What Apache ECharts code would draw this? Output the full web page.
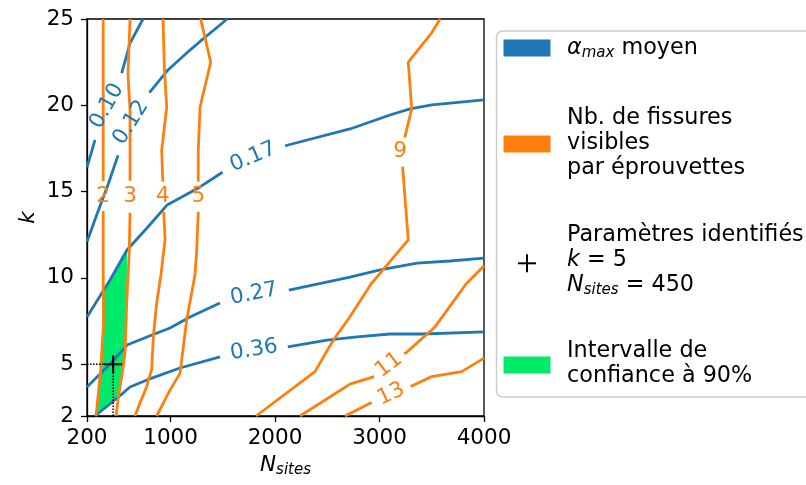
<!DOCTYPE html>
<html><head><meta charset="utf-8">
<script src="https://cdn.jsdelivr.net/npm/echarts@6/dist/echarts.min.js"></script>
<style>html,body{margin:0;padding:0;background:#fff}#c{width:806px;height:485px}</style>
</head><body><div id="c"></div>
<script>
// ---- axes ----
const xTicks = [200, 1000, 2000, 3000, 4000];
const yTicks = [2, 5, 10, 15, 20, 25];

// ---- alpha_max moyen contours [N_sites, k] ----
const alphaLevels = ['0.10', '0.12', '0.17', '0.27', '0.36'];
const alpha010 = [[200,16.4],[277,18.0],[401,20.0],[535,21.9],[612,23.6],[736,25]];
const alpha012 = [[200,12.1],[296,13.7],[401,15.4],[497,17.1],[650,18.9],[803,20.8],[975,22.05],[1186,23.2],[1282,23.7],[1473,24.65],[1540,25]];
const alpha017 = [[200,7.74],[420,9.88],[583,11.62],[774,12.89],[966,14.22],[1090,14.63],[1282,15.27],[1502,16.14],[1789,16.95],[2124,17.7],[2717,18.63],[3100,19.44],[3292,19.79],[3502,20.02],[4000,20.31]];
const alpha027 = [[200,3.68],[449,5.19],[583,6.11],[774,6.58],[994,7.1],[1186,7.74],[1473,8.55],[1808,9.01],[2143,9.3],[2459,9.71],[2717,10.05],[3005,10.46],[3359,10.86],[3675,10.98],[4000,11.15]];
const alpha036 = [[277,2],[545,3.33],[612,3.68],[774,4.09],[1090,4.78],[1473,5.42],[1808,5.82],[2124,6.0],[2497,6.4],[2784,6.58],[3100,6.75],[3416,6.75],[4000,6.87]];
const alphaLabelPos = [[391,19.96],[621,19.0],[1789,17.0],[1798,9.07],[1798,5.82]];
const alphaLabelAngle = [61, 58, 23, 11, 9];

// ---- visible cracks per specimen contours ----
const crackLevels = ['2', '3', '4', '5', '9', '11', '13'];
const crack2 = [[355,25],[355,17],[355,10.5],[357,7.2],[331,4.7],[299,2.75],[286,2]];
const crack3 = [[612,25],[592,21.8],[612,19.7],[612,13.9],[605,11.6],[580,8.55],[564,5.65],[532,4.26],[500,3.1],[478,2]];
const crack4 = [[928,25],[940,22.2],[963,19.9],[915,17.4],[925,15.7],[932,14.1],[947,12.2],[908,10.2],[867,8.55],[835,6.6],[819,4.7],[771,3.7],[707,2.75],[659,2]];
const crack5 = [[1288,25],[1384,22.5],[1282,19.9],[1265,17.4],[1265,13.8],[1250,11.6],[1234,10.2],[1154,7.56],[1122,6.0],[1090,4.47],[994,3.5],[867,2]];
const crack9 = [[3579,25],[3499,24.2],[3275,22.5],[3308,19.8],[3244,18.2],[3196,17.3],[3222,16.4],[3275,12.2],[3036,10.5],[2925,9.7],[2717,7.75],[2558,6.4],[2382,4.57],[1818,2]];
const crack11 = [[2239,2],[2717,3.85],[2973,4.33],[3090,4.95],[3260,5.7],[3531,7.16],[3828,9.65],[4000,10.7]];
const crack13 = [[2670,2],[2909,2.74],[3101,3.22],[3292,3.7],[3499,4.28],[3787,4.57],[4000,5.35]];
const crackLabelPos = [[355,14.75],[612,14.7],[925,14.7],[1265,14.7],[3196,17.3],[3090,4.95],[3110,3.27]];
const crackLabelAngle = [0, 0, 0, 0, 0, 37, 25];

// ---- identified parameters & 90% confidence region ----
const identN = 450;
const identK = 5;
const ciRegion = [[583,11.6],[580,8.55],[564,5.65],[532,4.26],[506,3.16],[290,2],[299,2.75],[331,4.7],[357,7.2],[353,9.23],[420,9.88]];

// ---- styles ----
const BLUE = '#1f77b4', ORANGE = '#ff7f0e', GREEN = '#00ea6a';
const FONT = 'DejaVu Sans';
const FS = 21.5;
const FSL = 22.3;
const FSUB = 15;
// half-length (px) of the inline gap left in each contour line around its label
const alphaGap = [36, 35, 34, 35, 34];
const crackGap = [15, 16, 15, 15, 15, 19, 21];

const alphaLines = [alpha010, alpha012, alpha017, alpha027, alpha036];
const crackLines = [crack2, crack3, crack4, crack5, crack9, crack11, crack13];

const chart = echarts.init(document.getElementById('c'), null, {renderer: 'canvas'});

const txt = (x, y, text) => ({
  type: 'text', x: x, y: y, z: 100,
  style: {text: text, fill: '#000', fontSize: FSL, fontFamily: FONT, lineHeight: 25,
          align: 'left', verticalAlign: 'middle',
          rich: {
            i: {fontStyle: 'italic', fontSize: FSL, fontFamily: FONT, lineHeight: 25, fill: '#000'},
            s: {fontStyle: 'italic', fontSize: FSUB, fontFamily: FONT, lineHeight: 13, verticalAlign: 'bottom', fill: '#000'}
          }}
});

chart.setOption({
  animation: false,
  backgroundColor: '#fff',
  grid: {left: 87, top: 19, width: 397, height: 397, show: true, borderColor: '#000', borderWidth: 1.3, backgroundColor: 'transparent'},
  xAxis: {
    type: 'value', min: 200, max: 4000,
    name: '{n|N}{s|sites}', nameLocation: 'middle', nameGap: 37,
    nameTextStyle: {color: '#000', fontFamily: FONT, fontSize: FS,
      rich: {n: {fontStyle: 'italic', fontSize: FS, fontFamily: FONT, color: '#000', lineHeight: 25},
             s: {fontStyle: 'italic', fontSize: FSUB, fontFamily: FONT, color: '#000', lineHeight: 13, verticalAlign: 'bottom'}}},
    axisLine: {lineStyle: {color: '#000', width: 1.3}},
    axisTick: {show: true, length: 6, customValues: xTicks, lineStyle: {color: '#000', width: 1.3}},
    axisLabel: {customValues: xTicks, formatter: v => String(v), color: '#000', fontSize: FS, fontFamily: FONT, margin: 11},
    splitLine: {show: false}
  },
  yAxis: {
    type: 'value', min: 2, max: 25,
    name: 'k', nameLocation: 'middle', nameGap: 48,
    nameTextStyle: {color: '#000', fontFamily: FONT, fontSize: FS, fontStyle: 'italic'},
    axisLine: {lineStyle: {color: '#000', width: 1.3}},
    axisTick: {show: true, length: 6, customValues: yTicks, lineStyle: {color: '#000', width: 1.3}},
    axisLabel: {customValues: yTicks, color: '#000', fontSize: FS, fontFamily: FONT, margin: 13},
    splitLine: {show: false}
  },
  series: [],
  graphic: {elements: [
    {type: 'rect', z: 90, shape: {x: 496.5, y: 31, width: 400, height: 366, r: 6},
     style: {fill: '#fff', stroke: '#cccccc', lineWidth: 1.5}},
    {type: 'rect', z: 100, shape: {x: 503.5, y: 39.5, width: 47, height: 17}, style: {fill: BLUE}},
    txt(567, 48.5, '{i|α}{s|max} moyen'),
    {type: 'rect', z: 100, shape: {x: 503.5, y: 135.5, width: 47, height: 17}, style: {fill: ORANGE}},
    txt(567, 143, 'Nb. de fissures\nvisibles\npar éprouvettes'),
    {type: 'rect', z: 100, shape: {x: 518, y: 262.3, width: 18, height: 2}, style: {fill: '#000'}},
    {type: 'rect', z: 100, shape: {x: 526, y: 254.3, width: 2, height: 18}, style: {fill: '#000'}},
    txt(567, 260, 'Paramètres identifiés\n{i|k} = 5\n{i|N}{s|sites} = 450'),
    {type: 'rect', z: 100, shape: {x: 503.5, y: 356.5, width: 47, height: 17}, style: {fill: GREEN}},
    txt(567, 364, 'Intervalle de\nconfiance à 90%')
  ]}
});

// Split a contour polyline around its label (inline label gap, as in matplotlib clabel)
function splitAtLabel(points, labelPos, half) {
  const toPx = p => chart.convertToPixel({gridIndex: 0}, p);
  const px = points.map(toPx);
  const c = toPx(labelPos);
  const s = [0];
  for (let i = 1; i < px.length; i++) s.push(s[i - 1] + Math.hypot(px[i][0] - px[i - 1][0], px[i][1] - px[i - 1][1]));
  let best = Infinity, s0 = 0;
  for (let i = 0; i < px.length - 1; i++) {
    const dx = px[i + 1][0] - px[i][0], dy = px[i + 1][1] - px[i][1];
    const L2 = dx * dx + dy * dy || 1;
    let t = ((c[0] - px[i][0]) * dx + (c[1] - px[i][1]) * dy) / L2;
    t = Math.max(0, Math.min(1, t));
    const d = Math.hypot(px[i][0] + t * dx - c[0], px[i][1] + t * dy - c[1]);
    if (d < best) { best = d; s0 = s[i] + t * (s[i + 1] - s[i]); }
  }
  const at = u => {
    for (let i = 0; i < px.length - 1; i++) {
      if (u <= s[i + 1]) {
        const t = (u - s[i]) / ((s[i + 1] - s[i]) || 1);
        return [points[i][0] + t * (points[i + 1][0] - points[i][0]), points[i][1] + t * (points[i + 1][1] - points[i][1])];
      }
    }
    return points[points.length - 1];
  };
  const a = s0 - half, b = s0 + half;
  const first = [], second = [];
  points.forEach((p, i) => { if (s[i] < a) first.push(p); });
  if (a > 0) first.push(at(a));
  if (b < s[s.length - 1]) second.push(at(b));
  points.forEach((p, i) => { if (s[i] > b) second.push(p); });
  return [first, second].filter(x => x.length > 1);
}

const series = [];
series.push({
  type: 'custom', name: 'ci', data: ciRegion, z: 1, silent: true,
  encode: {x: 0, y: 1},
  renderItem: (params, api) => {
    if (params.dataIndex !== 0) return null;
    return {type: 'polygon', shape: {points: ciRegion.map(p => api.coord(p))}, style: {fill: GREEN}};
  }
});
alphaLines.forEach((d, i) => splitAtLabel(d, alphaLabelPos[i], alphaGap[i]).forEach(part => series.push({
  type: 'line', name: 'alpha', data: part, symbol: 'none', z: 2, silent: true,
  lineStyle: {color: BLUE, width: 2.8}
})));
crackLines.forEach((d, i) => splitAtLabel(d, crackLabelPos[i], crackGap[i]).forEach(part => series.push({
  type: 'line', name: 'crack', data: part, symbol: 'none', z: 3, silent: true,
  lineStyle: {color: ORANGE, width: 2.8}
})));
series.push({
  type: 'scatter', name: 'alphaLabels', z: 5, silent: true, symbolSize: 0,
  itemStyle: {color: '#fff', opacity: 1},
  data: alphaLabelPos.map((p, i) => ({value: p, name: alphaLevels[i], label: {rotate: alphaLabelAngle[i]}})),
  label: {show: true, position: 'inside', formatter: '{b}', color: BLUE, fontSize: FS, fontFamily: FONT, opacity: 1}
});
series.push({
  type: 'scatter', name: 'crackLabels', z: 5, silent: true, symbolSize: 0,
  itemStyle: {color: '#fff', opacity: 1},
  data: crackLabelPos.map((p, i) => ({value: p, name: crackLevels[i], label: {rotate: crackLabelAngle[i]}})),
  label: {show: true, position: 'inside', formatter: '{b}', color: ORANGE, fontSize: FS, fontFamily: FONT, opacity: 1}
});
series.push({
  type: 'line', name: 'refH', data: [[xTicks[0], identK], [identN, identK]], symbol: 'none', z: 6, silent: true,
  lineStyle: {color: '#000', width: 1.5, type: 'dotted'}
});
series.push({
  type: 'line', name: 'refV', data: [[identN, yTicks[0]], [identN, identK]], symbol: 'none', z: 6, silent: true,
  lineStyle: {color: '#000', width: 1.5, type: 'dotted'}
});
series.push({
  type: 'scatter', name: 'ident', data: [[identN, identK]], z: 7, silent: true,
  symbol: 'path://M7.5,0H9.5V7.5H17V9.5H9.5V17H7.5V9.5H0V7.5H7.5Z', symbolSize: 18,
  itemStyle: {color: '#000', opacity: 1}
});

chart.setOption({series: series});
</script></body></html>
